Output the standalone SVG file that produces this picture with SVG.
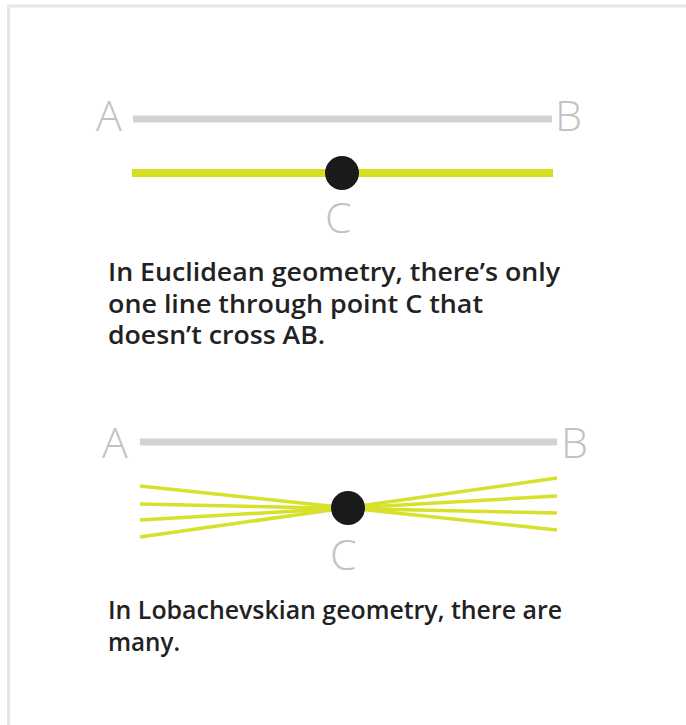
<svg xmlns="http://www.w3.org/2000/svg" width="686" height="725" viewBox="0 0 686 725">
<style>
.lbl{font-family:"Open Sans","Liberation Sans",sans-serif;font-weight:300;font-size:43px;fill:#c2c2c2}
.cap{font-family:"Open Sans","Liberation Sans",sans-serif;font-weight:600;font-size:25.5px;fill:#222222}
.ab{stroke:#d2d2d2;stroke-width:7;fill:none}
.par{stroke:#d4df22;stroke-width:8;fill:none}
.ray{stroke:#d6e12c;stroke-width:3.5;fill:none}
.pt{fill:#1a1a1a}
</style>
<rect x="0" y="0" width="686" height="725" fill="#ffffff"/>
<path d="M8.5 725 V6 H686" stroke="#e6e6e6" stroke-width="3" fill="none"/>
<g id="euclid">
  <line class="ab" x1="133" y1="119" x2="552" y2="119"/>
  <text class="lbl" x="96" y="131">A</text>
  <text class="lbl" x="555" y="131">B</text>
  <line class="par" x1="132" y1="173" x2="553" y2="173"/>
  <circle class="pt" cx="342" cy="173" r="17"/>
  <text class="lbl" x="325" y="233">C</text>
  <text class="cap" x="108" y="281" textLength="452" lengthAdjust="spacingAndGlyphs">In Euclidean geometry, there’s only</text>
  <text class="cap" x="108" y="313" textLength="375" lengthAdjust="spacingAndGlyphs">one line through point C that</text>
  <text class="cap" x="108" y="344" textLength="217" lengthAdjust="spacingAndGlyphs">doesn’t cross AB.</text>
</g>
<g id="lobachevsky">
  <line class="ab" x1="140" y1="442" x2="557" y2="442"/>
  <text class="lbl" x="102" y="458">A</text>
  <text class="lbl" x="561" y="458">B</text>
  <line class="ray" x1="140" y1="486" x2="557" y2="530"/>
  <line class="ray" x1="140" y1="504" x2="557" y2="513"/>
  <line class="ray" x1="140" y1="520" x2="557" y2="496"/>
  <line class="ray" x1="140" y1="537" x2="557" y2="478"/>
  <circle class="pt" cx="348" cy="508" r="17"/>
  <text class="lbl" x="330" y="570">C</text>
  <text class="cap" x="108" y="619" textLength="454" lengthAdjust="spacingAndGlyphs">In Lobachevskian geometry, there are</text>
  <text class="cap" x="108" y="651" textLength="72" lengthAdjust="spacingAndGlyphs">many.</text>
</g>
</svg>
